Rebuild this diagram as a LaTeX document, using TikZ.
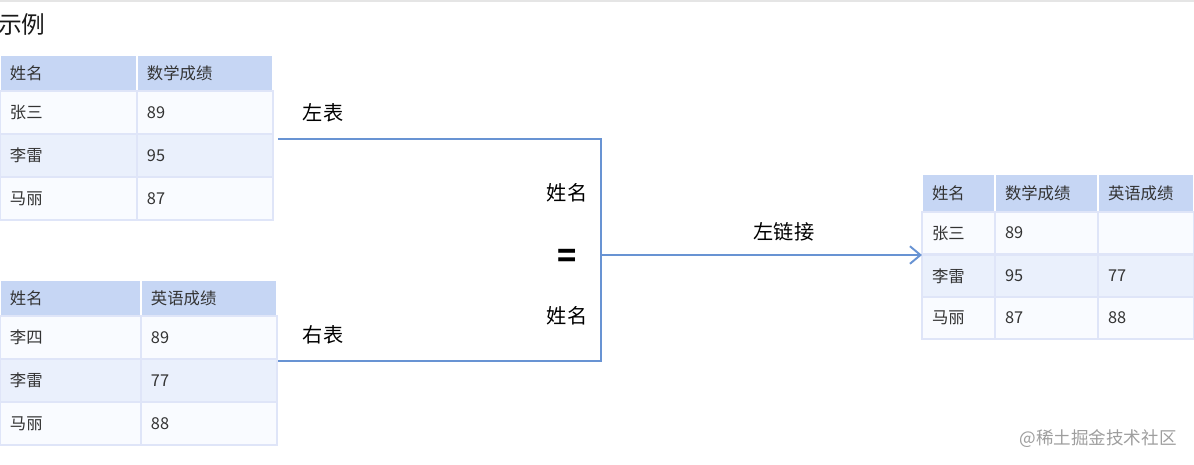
\documentclass[tikz,border=0pt]{standalone}
\usepackage{fontspec}
\setmainfont{Noto Sans CJK SC}
\usepackage{xcolor}
\usepackage{tikz}
\usetikzlibrary{arrows.meta,calc}
\definecolor{hdfill}{HTML}{C6D6F4}
\definecolor{rowlt}{HTML}{EAF0FC}
\definecolor{rowwh}{HTML}{F9FBFF}
\definecolor{gridc}{HTML}{DFE5F8}
\definecolor{linkc}{HTML}{6893D3}
\definecolor{txt}{HTML}{333333}
\tikzset{
  every node/.style={font=\fontsize{9.3}{11}\selectfont,text=txt},
  cell/.style={rectangle,draw=gridc,line width=0.6pt,anchor=north west,outer sep=0pt,
    inner xsep=0.2cm,inner ysep=0pt,minimum height=0.86cm,text width=#1,align=left},
  hd/.style={cell=#1,fill=hdfill,draw=white,minimum height=0.72cm},
  link/.style={linkc,line width=1.1pt},
  lbl/.style={font=\fontsize{11.5}{13}\selectfont,text=black},
}
\begin{document}
\begin{tikzpicture}[x=0.02cm,y=-0.02cm]
  \useasboundingbox (0,0) rectangle (1194,464);
  \draw[black!10,line width=0.8pt] (0,1) -- (1194,1);
  \node[font=\fontsize{13.5}{15}\selectfont,text=black!90] (title) at (22,25) {示例};
  \node[hd=2.34cm] (la0) at (0,55) {姓名};
  \node[hd=2.32cm] (lb0) at (137,55) {数学成绩};
  \foreach \i/\y/\nm/\sc/\fc in {1/91/张三/89/rowwh,2/134/李雷/95/rowlt,3/177/马丽/87/rowwh}{
    \node[cell=2.34cm,fill=\fc] (la\i) at (0,\y) {\nm};
    \node[cell=2.32cm,fill=\fc] (lb\i) at (137,\y) {\sc};
  }
  \node[hd=2.42cm] (ra0) at (0,280) {姓名};
  \node[hd=2.32cm] (rb0) at (141,280) {英语成绩};
  \foreach \i/\y/\nm/\sc/\fc in {1/316/李四/89/rowwh,2/359/李雷/77/rowlt,3/402/马丽/88/rowwh}{
    \node[cell=2.42cm,fill=\fc] (ra\i) at (0,\y) {\nm};
    \node[cell=2.32cm,fill=\fc] (rb\i) at (141,\y) {\sc};
  }
  \node[hd=1.06cm,minimum height=0.76cm] (ja0) at (922,174) {姓名};
  \node[hd=1.66cm,minimum height=0.76cm] (jb0) at (995,174) {数学成绩};
  \node[hd=1.52cm,minimum height=0.76cm] (jc0) at (1098,174) {英语成绩};
  \foreach \i/\y/\nm/\sc/\ec/\fc in {1/212/张三/89/{}/rowwh,2/255/李雷/95/77/rowlt,3/297/马丽/87/88/rowwh}{
    \node[cell=1.06cm,fill=\fc,minimum height=0.84cm] (ja\i) at (922,\y) {\nm};
    \node[cell=1.66cm,fill=\fc,minimum height=0.84cm] (jb\i) at (995,\y) {\sc};
    \node[cell=1.52cm,fill=\fc,minimum height=0.84cm] (jc\i) at (1098,\y) {\ec};
  }
  \coordinate (jtop) at (601,139);
  \coordinate (jbot) at (601,361);
  \coordinate (jmid) at (601,255);
  \draw[link] ([shift={(5,5)}]lb2.north east) -- (jtop) -- (jbot) -- ([shift={(1,2)}]rb2.north east);
  \draw[link,-{Straight Barb[length=6pt,width=10pt]}] (jmid) -- (ja2.north west);
  \node[lbl] (ltab) at (323,113) {左表};
  \node[lbl] (rtab) at (323,335) {右表};
  \node[lbl] (key1) at (567,193) {姓名};
  \node[lbl,font=\fontsize{18}{20}\selectfont\bfseries] (eq) at (567,258) {=};
  \node[lbl] (key2) at (567,316) {姓名};
  \node[lbl] (join) at (784,232) {左链接};
  \node[text=black!38,font=\fontsize{10}{12}\selectfont] (mark) at (1098,439) {@稀土掘金技术社区};
\end{tikzpicture}
\end{document}
